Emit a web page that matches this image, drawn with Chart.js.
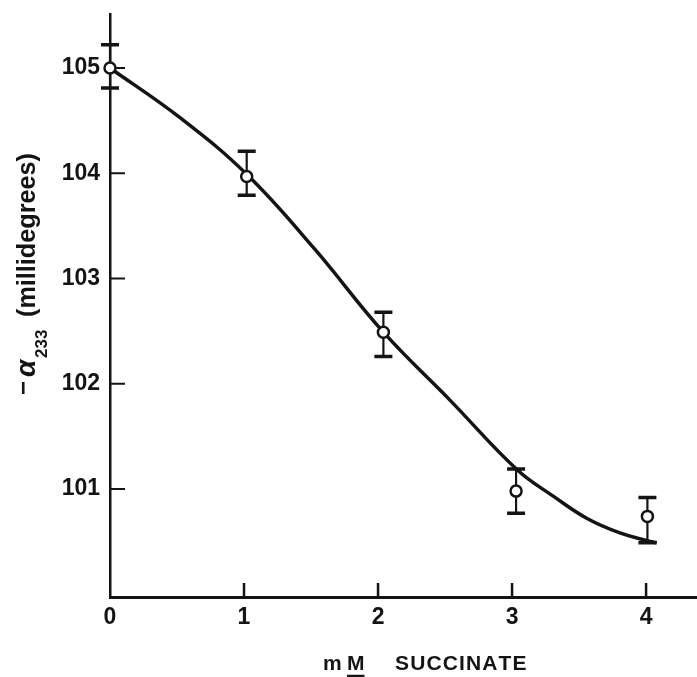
<!DOCTYPE html>
<html>
<head>
<meta charset="utf-8">
<script src="https://cdn.jsdelivr.net/npm/chart.js@4.4.1/dist/chart.umd.min.js"></script>
<style>
  html, body { margin: 0; padding: 0; background: #fff; }
  canvas { display: block; }
</style>
</head>
<body>
<canvas id="c" width="697" height="677"></canvas>
<script>
// Axis ticks
const xTicks = [0, 1, 2, 3, 4];
const yTicks = [101, 102, 103, 104, 105];

// Measured rotation vs. succinate (mM), with error bar limits
const succinate = [0, 1.02, 2.04, 3.03, 4.01];
const rotation = [105.0, 103.97, 102.49, 100.98, 100.74];
const rotationHigh = [105.22, 104.21, 102.68, 101.19, 100.92];
const rotationLow = [104.81, 103.79, 102.26, 100.77, 100.49];

// Hand-fitted curve
const fitX = [0, 0.52, 1.02, 1.52, 2.04, 2.54, 3.04, 3.31, 3.56, 3.81, 4.01, 4.08];
const fitY = [105.0, 104.53, 103.99, 103.29, 102.49, 101.84, 101.18, 100.93, 100.72, 100.58, 100.51, 100.49];

const INK = '#141414';
const FONT = "'Liberation Sans', Arial, sans-serif";

Chart.defaults.font.family = FONT;
Chart.defaults.color = INK;

// Error bars behind the circles, inward tick marks on both axes
const markPlugin = {
  id: 'marks',
  beforeDatasetsDraw(chart) {
    const { ctx, scales: { x, y } } = chart;
    ctx.save();
    ctx.strokeStyle = INK;
    ctx.lineCap = 'butt';
    for (let i = 0; i < succinate.length; i++) {
      const px = x.getPixelForValue(succinate[i]);
      const top = y.getPixelForValue(rotationHigh[i]);
      const bot = y.getPixelForValue(rotationLow[i]);
      ctx.lineWidth = 2.2;
      ctx.beginPath();
      ctx.moveTo(px, top);
      ctx.lineTo(px, bot);
      ctx.stroke();
      ctx.lineWidth = 3.5;
      ctx.beginPath();
      ctx.moveTo(px - 9, top);
      ctx.lineTo(px + 9, top);
      ctx.moveTo(px - 9, bot);
      ctx.lineTo(px + 9, bot);
      ctx.stroke();
    }
    // y ticks point into the plot
    ctx.lineWidth = 2;
    const left = chart.chartArea.left;
    yTicks.forEach(v => {
      const py = y.getPixelForValue(v);
      ctx.beginPath();
      ctx.moveTo(left, py);
      ctx.lineTo(left + 15, py);
      ctx.stroke();
    });
    // x ticks point up
    const bottom = chart.chartArea.bottom;
    ctx.lineWidth = 2.5;
    xTicks.slice(1).forEach(v => {
      const px = x.getPixelForValue(v);
      ctx.beginPath();
      ctx.moveTo(px, bottom - 14);
      ctx.lineTo(px, bottom);
      ctx.stroke();
    });
    ctx.restore();
  },
  afterDraw(chart) {
    const { ctx } = chart;
    ctx.save();
    ctx.fillStyle = INK;
    ctx.strokeStyle = INK;

    // y title, rotated: "−α233 (millidegrees)"
    ctx.translate(35, 395);
    ctx.rotate(-Math.PI / 2);
    ctx.textBaseline = 'alphabetic';
    ctx.textAlign = 'left';
    ctx.font = `bold 24px ${FONT}`;
    ctx.fillText('\u2212', 0, -4);
    ctx.font = `bold italic 28px ${FONT}`;
    ctx.fillText('\u03b1', 18, 0);
    ctx.font = `bold 17px ${FONT}`;
    ctx.fillText('233', 37, 12);
    ctx.font = `bold 25px ${FONT}`;
    const unit = '(millidegrees)';
    const w = ctx.measureText(unit).width;
    ctx.save();
    ctx.translate(78, 0);
    ctx.scale(164 / w, 1);
    ctx.fillText(unit, 0, 0);
    ctx.restore();
    ctx.restore();

    // x title: "mM SUCCINATE" with M underlined
    ctx.save();
    ctx.fillStyle = INK;
    ctx.strokeStyle = INK;
    ctx.textBaseline = 'alphabetic';
    ctx.textAlign = 'left';
    ctx.font = `bold 21px ${FONT}`;
    ctx.fillText('m', 323, 670);
    ctx.fillText('M', 347, 670);
    const mw = ctx.measureText('M').width;
    ctx.lineWidth = 2.5;
    ctx.beginPath();
    ctx.moveTo(347, 676);
    ctx.lineTo(347 + mw, 676);
    ctx.stroke();
    const word = 'SUCCINATE';
    let cx = 395;
    const plain = ctx.measureText(word).width;
    const gap = (130 - plain) / (word.length - 1);
    for (const ch of word) {
      ctx.fillText(ch, cx, 670);
      cx += ctx.measureText(ch).width + gap;
    }
    ctx.restore();
  }
};

new Chart(document.getElementById('c'), {
  data: {
    datasets: [
      {
        type: 'scatter',
        data: succinate.map((v, i) => ({ x: v, y: rotation[i] })),
        pointRadius: 5.5,
        pointBorderWidth: 2.5,
        pointBorderColor: INK,
        pointBackgroundColor: '#fff',
        clip: false,
        order: 0
      },
      {
        type: 'line',
        data: fitX.map((v, i) => ({ x: v, y: fitY[i] })),
        borderColor: INK,
        borderWidth: 3.5,
        pointRadius: 0,
        tension: 0.4,
        fill: false,
        clip: false,
        order: 1
      }
    ]
  },
  options: {
    responsive: false,
    animation: false,
    events: [],
    layout: { autoPadding: false, padding: { top: 14, right: 0, left: 0, bottom: 0 } },
    plugins: { legend: { display: false }, tooltip: { enabled: false } },
    scales: {
      x: {
        type: 'linear',
        min: 0,
        max: 4.38,
        afterBuildTicks: s => { s.ticks = xTicks.map(v => ({ value: v })); },
        afterFit: s => { s.height = 80; s.paddingLeft = 0; s.paddingRight = 0; },
        grid: { display: false, drawTicks: false },
        border: { display: true, color: INK, width: 3 },
        ticks: { color: INK, font: { size: 23, weight: 'bold' }, padding: 7, callback: v => String(v) }
      },
      y: {
        type: 'linear',
        min: 99.974,
        max: 105.513,
        afterBuildTicks: s => { s.ticks = yTicks.map(v => ({ value: v })); },
        afterFit: s => { s.width = 110; s.paddingTop = 0; s.paddingBottom = 0; },
        grid: { display: false, drawTicks: false },
        border: { display: true, color: INK, width: 2.5 },
        ticks: { color: INK, font: { size: 23, weight: 'bold' }, padding: 10, callback: v => String(v) }
      }
    }
  },
  plugins: [markPlugin]
});
</script>
</body>
</html>
